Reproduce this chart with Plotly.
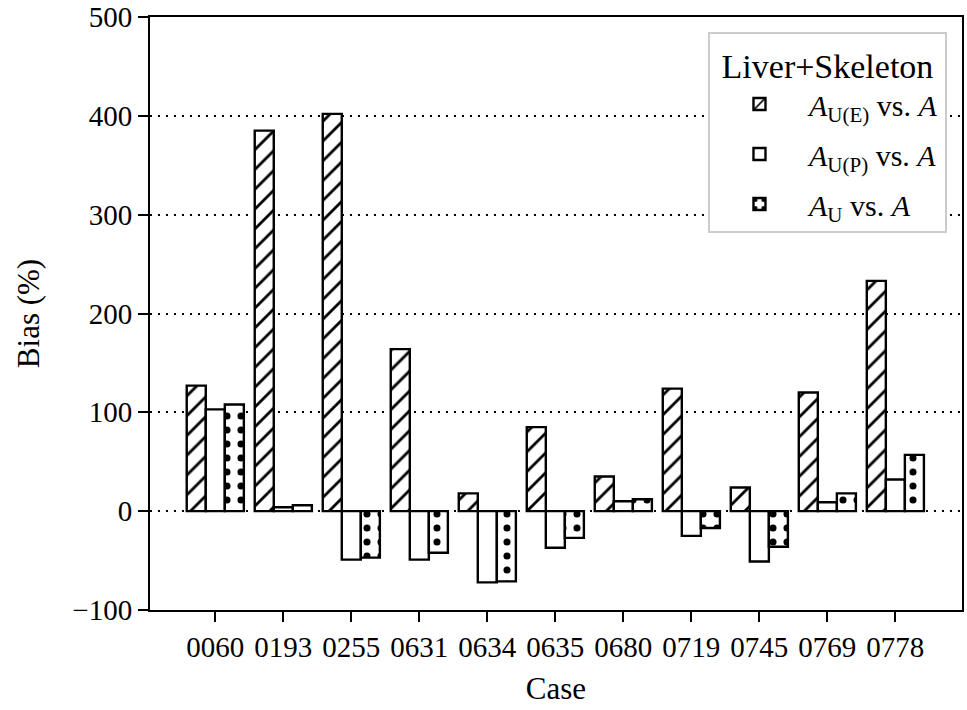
import plotly.graph_objects as go

cases = ["0060", "0193", "0255", "0631", "0634", "0635", "0680", "0719", "0745", "0769", "0778"]
bias_ue = [127, 385, 402, 164, 18, 85, 35, 124, 24, 120, 233]
bias_up = [103, 4, -49, -49, -72, -37, 10, -25, -51, 9, 32]
bias_u = [108, 6, -47, -42, -71, -27, 12, -17, -36, 18, 57]

names = [
    "<i>A</i><sub>U(E)</sub> vs. <i>A</i>",
    "<i>A</i><sub>U(P)</sub> vs. <i>A</i>",
    "<i>A</i><sub>U</sub> vs. <i>A</i>",
]
patterns = [
    dict(shape="/", fgcolor="black", bgcolor="white", size=14, solidity=0.2,
         fillmode="overlay", fgopacity=1),
    dict(shape="", fgcolor="black", bgcolor="white"),
    dict(shape=".", fgcolor="black", bgcolor="white", size=14, solidity=0.2,
         fillmode="overlay", fgopacity=1),
]

FONT = "Liberation Serif"

fig = go.Figure()
for i, (name, vals, pat) in enumerate(zip(names, [bias_ue, bias_up, bias_u], patterns)):
    fig.add_trace(go.Bar(
        x=cases, y=vals, name=name, legendgroup=f"g{i}",
        marker=dict(color="white", line=dict(color="black", width=2.4), pattern=pat),
    ))

fig.update_layout(
    width=967, height=710,
    margin=dict(l=150, r=5, t=17, b=100),
    paper_bgcolor="white", plot_bgcolor="white",
    barmode="group", bargap=0.16, bargroupgap=0,
    font=dict(family=FONT, size=29, color="black"),
    showlegend=True,
    legend=dict(
        title=dict(text="Liver+Skeleton", font=dict(family=FONT, size=34), side="top center"),
        x=0.9815, y=0.975, xanchor="right", yanchor="top",
        bgcolor="white", bordercolor="#cccccc", borderwidth=2,
        font=dict(family=FONT, size=30), itemwidth=89, tracegroupgap=8,
    ),
)

fig.update_xaxes(
    type="category", range=[-0.96, 10.98], automargin=False,
    showline=True, linecolor="black", linewidth=2, mirror=True,
    ticks="outside", ticklen=10, tickwidth=2, tickcolor="black",
    tickfont=dict(family=FONT, size=29),
    showgrid=False,
    title=dict(text="Case", font=dict(family=FONT, size=31), standoff=16),
)
fig.update_yaxes(
    range=[-100, 500], dtick=100, automargin=False,
    showline=True, linecolor="black", linewidth=2, mirror=True,
    ticks="outside", ticklen=10, tickwidth=2, tickcolor="black",
    tickfont=dict(family=FONT, size=29),
    showgrid=True, gridcolor="black", gridwidth=2, griddash="2px,6px",
    zeroline=False,
    tickformat="d",
    title=dict(text="Bias (%)", font=dict(family=FONT, size=31), standoff=23),
)

fig.write_html("out.html", config={"displayModeBar": False},
               post_script="document.body.style.margin='0';")
